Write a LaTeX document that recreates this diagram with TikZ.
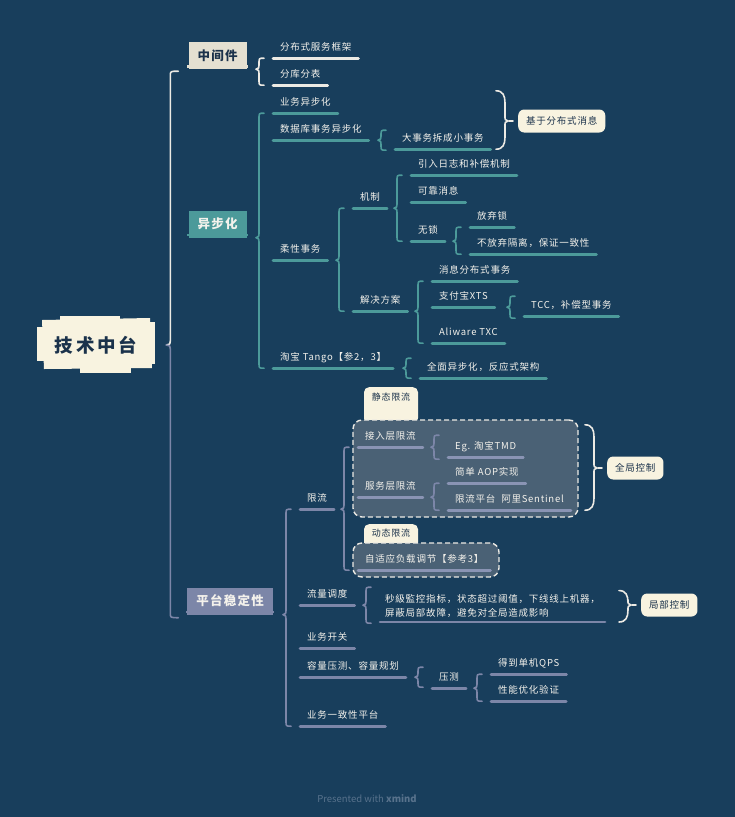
\documentclass[tikz,border=0pt]{standalone}
\usepackage{fontspec}
\setmainfont{Noto Sans CJK SC}
\newfontfamily\tfont[LetterSpace=8]{Noto Sans CJK SC}
\newfontfamily\hfont[LetterSpace=10]{Noto Sans CJK SC}
\newfontfamily\rfont[LetterSpace=16]{Noto Sans CJK SC}
\usetikzlibrary{calc,fit}
\definecolor{bg}{RGB}{24,62,92}
\definecolor{cream}{RGB}{248,243,224}
\definecolor{tanc}{RGB}{228,224,209}
\definecolor{teal}{RGB}{76,154,154}
\definecolor{lav}{RGB}{124,134,168}
\definecolor{lavl}{RGB}{138,148,180}
\definecolor{linew}{RGB}{236,234,228}
\definecolor{navy}{RGB}{27,50,75}
\definecolor{txt}{RGB}{244,242,236}
\definecolor{zonec}{RGB}{74,97,117}
\definecolor{foot}{RGB}{88,114,140}

\newcommand\mtopic[4]{\node[tp] (#1) at (#2) {#3}; \draw[ul,#4] (#1.south west) -- (#1.south east);}
\newcommand\mbrace[4]{%
\draw[brc,#1] let \p1=(#2.south east), \p2=(#3.south west), \p3=(#4.south west) in
 (\x2-9pt,\y2) .. controls (\x2-14pt,\y2) .. (\x2-14pt,\y2-5pt)
 -- (\x2-14pt,\y1+4pt) .. controls (\x2-14pt,\y1+1pt) .. (\x2-17pt,\y1)
 .. controls (\x2-14pt,\y1-1pt) .. (\x2-14pt,\y1-4pt)
 -- (\x2-14pt,\y3+5pt) .. controls (\x2-14pt,\y3) .. (\x2-9pt,\y3);}
\newcommand\sbrace[4]{%
\draw[brc,#1] let \p1=(#2.south east), \p2=(#3.south west) in
 (\x2-9pt,\y1+#4) .. controls (\x2-14pt,\y1+#4) .. (\x2-14pt,\y1+#4-5pt)
 -- (\x2-14pt,\y1+4pt) .. controls (\x2-14pt,\y1+1pt) .. (\x2-17pt,\y1)
 .. controls (\x2-14pt,\y1-1pt) .. (\x2-14pt,\y1-4pt)
 -- (\x2-14pt,\y1-#4+5pt) .. controls (\x2-14pt,\y1-#4) .. (\x2-9pt,\y1-#4);}
\newcommand\sumbrace[4]{%
\draw[brc,#1] let \p1=(#2.west), \p2=(#3), \p3=(#4) in
 (\x1-22pt,\y2) .. controls (\x1-15pt,\y2) and (\x1-13pt,\y2-5pt) .. (\x1-13pt,\y2-12pt)
 -- (\x1-13pt,\y1+5pt) .. controls (\x1-13pt,\y1+1pt) .. (\x1-10pt,\y1)
 .. controls (\x1-13pt,\y1-1pt) .. (\x1-13pt,\y1-5pt)
 -- (\x1-13pt,\y3+12pt) .. controls (\x1-13pt,\y3+5pt) and (\x1-15pt,\y3) .. (\x1-22pt,\y3);
\draw[brc,#1] ($(#2.west)+(-9pt,0)$) -- ($(#2.west)+(-5pt,0)$);}

\begin{document}
\begin{tikzpicture}[x=1pt,y=-1pt,
  tp/.style={anchor=west, inner xsep=7pt, inner ysep=6pt, text height=8pt, text depth=2pt,
    font=\tfont\fontsize{9.5}{12}\selectfont, text=txt},
  tp2/.style={anchor=south west, inner xsep=5pt, inner ysep=4pt, align=left,
    font=\tfont\fontsize{9.5}{14}\selectfont, text=txt},
  ul/.style={line width=2.6pt, line cap=round},
  brc/.style={line width=1.6pt, line cap=round, line join=round},
  summ/.style={anchor=west, fill=cream, rounded corners=6pt, text=navy, inner xsep=8pt,
    minimum height=23pt, font=\tfont\fontsize{9.5}{12}\selectfont},
  cat/.style={font=\hfont\bfseries\fontsize{12.5}{14}\selectfont, inner sep=0pt, minimum height=27pt},
  tabn/.style={anchor=north, fill=cream, rounded corners=5pt, text=navy, minimum width=54pt,
    inner xsep=0pt, text height=8pt, font=\tfont\fontsize{9}{11}\selectfont},
  zone/.style={draw=linew, dash pattern=on 5pt off 3pt, line width=1.4pt, rounded corners=9pt,
    fill=zonec, inner sep=0pt}
]
\fill[bg] (0,0) rectangle (735,817);

% root
\fill[cream] (42,320) -- (150,318) -- (152,368) -- (44,369) -- cycle;
\fill[cream] (37,327) rectangle (46,361);
\fill[cream] (147,322) rectangle (155,364);
\fill[cream] (80,365) rectangle (131,373);
\fill[cream] (60,316) rectangle (120,321);
\node[font=\rfont\bfseries\fontsize{18.5}{20}\selectfont, text=navy, inner sep=0pt] (r) at (96,345) {技术中台};

% category boxes
\node[cat, fill=tanc, text=navy, minimum width=58pt] (mw) at (217.5,55.5) {中间件};
\fill[tanc] ($(mw.south west)+(-1pt,1.5pt)$) rectangle ($(mw.south east)+(1pt,4pt)$);
\node[cat, fill=teal, text=txt, minimum width=58pt] (yb) at (217.5,224) {异步化};
\fill[teal] ($(yb.south west)+(-1pt,1.5pt)$) rectangle ($(yb.south east)+(1pt,4pt)$);
\node[cat, fill=lav, text=txt, minimum width=86pt] (pt) at (230,601) {平台稳定性};
\fill[lav] ($(pt.south west)+(-1pt,1.5pt)$) rectangle ($(pt.south east)+(1pt,4pt)$);

% main line
\draw[brc, linew] let \p1=(r.east), \p2=(mw.south west) in
  (\x2-10pt,\y2-2pt) .. controls (\x2-18pt,\y2-2pt) .. (\x2-18pt,\y2-7pt)
  -- (\x2-18pt,\y1+4pt) .. controls (\x2-18pt,\y1+1pt) .. (\x2-22pt,\y1);
\draw[brc, lav] let \p1=(r.east), \p2=(mw.south west), \p3=(pt.south west) in
  (\x2-22pt,\y1) .. controls (\x2-18pt,\y1-1pt) .. (\x2-18pt,\y1-4pt)
  -- (\x2-18pt,\y3+2pt) .. controls (\x2-18pt,\y3-3pt) .. (\x2-10pt,\y3-3pt);

% zones and tabs
\node[tabn, inner ysep=5pt, text depth=18pt] (stt) at (391,387) {静态限流};
\node[zone, fit={(353,420) (578,517)}] (sz) {};
\node[tabn, inner ysep=4pt, text depth=7pt] (dyt) at (391,524) {动态限流};
\node[zone, fit={(353,543) (499,577)}] (dz) {};

% 中间件
\mtopic{fb}{273,47}{分布式服务框架}{linew}
\mtopic{fk}{273,74}{分库分表}{linew}
\mbrace{linew}{mw}{fb}{fk}

% 异步化
\mtopic{ywu}{273,102}{业务异步化}{teal}
\mtopic{sjk}{273,129}{数据库事务异步化}{teal}
\mtopic{dsw}{395,138}{大事务拆成小事务}{teal}
\mtopic{rx}{273,249}{柔性事务}{teal}
\mtopic{jz}{353,197}{机制}{teal}
\mtopic{yr}{411,164}{引入日志和补偿机制}{teal}
\mtopic{kk}{411,191}{可靠消息}{teal}
\mtopic{ws}{411,230}{无锁}{teal}
\mtopic{fq}{470,216}{放弃锁}{teal}
\mtopic{bf}{470,243}{不放弃隔离，保证一致性}{teal}
\mtopic{ja}{353,300}{解决方案}{teal}
\mtopic{xx}{432,270}{消息分布式事务}{teal}
\mtopic{zf}{432,296}{支付宝XTS}{teal}
\mtopic{tcc}{524,305}{TCC，补偿型事务}{teal}
\mtopic{ali}{432,332}{Aliware TXC}{teal}
\mtopic{tb}{273,357}{淘宝 Tango【参2，3】}{teal}
\mtopic{qm}{420,367}{全面异步化，反应式架构}{teal}

\mbrace{teal}{yb}{ywu}{tb}
\sbrace{teal}{sjk}{dsw}{10pt}
\mbrace{teal}{rx}{jz}{ja}
\mbrace{teal}{jz}{yr}{ws}
\mbrace{teal}{ws}{fq}{bf}
\mbrace{teal}{ja}{xx}{ali}
\sbrace{teal}{zf}{tcc}{11pt}
\sbrace{teal}{tb}{qm}{10pt}

\node[summ] (s1) at (518,121) {基于分布式消息};
\sumbrace{linew}{s1}{ywu.north}{dsw.south}

% 平台稳定性
\mtopic{xl}{300,498}{限流}{lav}
\mtopic{jr}{358,436}{接入层限流}{lavl}
\mtopic{eg}{448,446}{Eg. 淘宝TMD}{lavl}
\mtopic{fw}{358,486}{服务层限流}{lavl}
\mtopic{aop}{448,472}{简单 AOP实现}{lavl}
\mtopic{sen}{448,499}{限流平台\ \ 阿里Sentinel}{lavl}
\mtopic{zsy}{358,559}{自适应负载调节【参考3】}{lavl}
\mtopic{ll}{300,594}{流量调度}{lav}
\node[tp2] (lt) at (380,622) {秒級監控指标，状态超过阈值，下线线上机器，\\屏蔽局部故障，避免对全局造成影响};
\draw[ul,lav] (lt.south west) -- (lt.south east);
\mtopic{kg}{300,637}{业务开关}{lav}
\mtopic{rl}{300,666}{容量压测、容量规划}{lav}
\mtopic{yc}{432,677}{压测}{lav}
\mtopic{dd}{491,663}{得到单机QPS}{lav}
\mtopic{xn}{491,690}{性能优化验证}{lav}
\mtopic{yz}{300,715}{业务一致性平台}{lav}

\mbrace{lav}{pt}{xl}{yz}
\mbrace{lav}{xl}{jr}{zsy}
\sbrace{lav}{jr}{eg}{12pt}
\mbrace{lav}{fw}{aop}{sen}
\sbrace{lav}{ll}{lt}{18pt}
\sbrace{lav}{rl}{yc}{10pt}
\mbrace{lav}{yc}{dd}{xn}

\node[summ] (s2) at (607,468) {全局控制};
\sumbrace{linew}{s2}{jr.north}{sen.south}
\node[summ] (s3) at (641,605) {局部控制};
\sumbrace{linew}{s3}{lt.north}{lt.south}

% footer
\node[text=foot, font=\fontsize{9.5}{11}\selectfont] (ft) at (367,799) {Presented with \textbf{xmind}};
\end{tikzpicture}
\end{document}
